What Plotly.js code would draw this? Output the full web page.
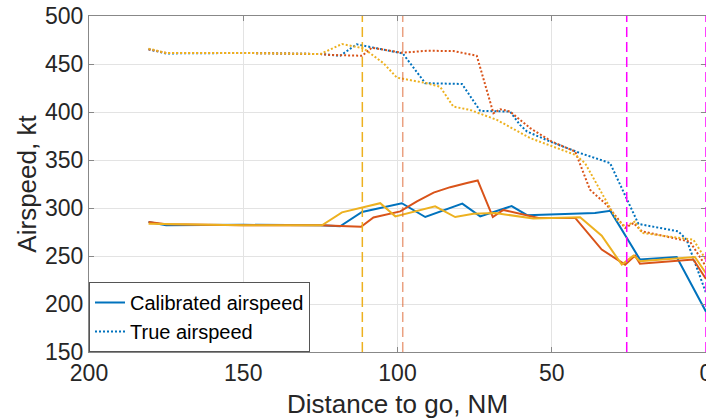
<!DOCTYPE html>
<html>
<head>
<meta charset="utf-8">
<script src="https://cdn.plot.ly/plotly-3.0.1.min.js"></script>
<style>html,body{margin:0;padding:0;background:#fff;}#chart{width:706px;height:419px;}</style>
</head>
<body>
<div id="chart"></div>
<script>
// Calibrated airspeed (solid)
const casBlueX = [180.7,175,150,125,118.6,111.5,98.6,91,79,73.2,63,58,36,31,21.4,9.5,0];
const casBlueY = [285.5,282,282.5,282,281,295.8,305,290.6,304.5,291.3,302,292.5,294.8,297,246.3,249,192];
const casRedX = [180.7,175,150,125,111.8,107.8,99.1,93.7,88.3,82.9,77.5,74,69.1,65.7,54.3,42.4,33.8,31.1,26.2,23,21.4,4.1,0];
const casRedY = [285.5,283,282,282,280.5,290.2,296.5,307,316,321.7,326,328.7,290.6,298,289.6,289.6,256.7,251.4,241,250.4,242,246.3,226];
const casYelX = [180.7,150,124.5,118,105.6,100.7,87.8,81.3,75.4,68.4,56,40.8,33.8,27.3,23.5,21.4,3.6,0];
const casYelY = [283.5,282,282,295.5,305,291.3,301.7,290.6,294,294.8,289,290.3,271.2,241,250.4,244.5,249,232];
// True airspeed (dotted)
const tasBlueX = [180.7,175,150,125,118.6,113.2,100.2,98.3,91,79.1,73.2,63.5,60.3,58,50.5,40.8,31.1,25.7,21.9,9,6.3,0];
const tasBlueY = [465.3,461,461.5,460.4,458.6,470.5,462.2,461,430,429.2,401.2,400.4,386.6,379.6,369.2,357.2,346.8,308.6,283.4,275.7,267,211.6];
const tasRedX = [180.7,175,150,125,121.8,111.5,108.3,98.6,90.5,81.9,74.3,68.9,66.7,63.5,57,50,42.4,37.6,32.2,26.2,23.5,20.8,5.2,0];
const tasRedY = [465.3,461.5,461.5,460.4,459.4,458.6,467,461.7,463.8,463.5,458.6,398.7,402.9,400.4,383.2,369.2,358.8,319,303.4,279.2,284.4,275.7,265,239];
const tasYelX = [180.7,175,150,125,118,111,104.5,100.2,90.5,86.2,81.9,76.5,67.8,57,42.4,39.2,31.1,28.9,26.2,23,20.8,4.1,0];
const tasYelY = [466,461.5,461.5,460.4,470.8,466.3,450.7,435.8,430,426.4,405.6,402.2,391.8,372.8,355.4,346.8,300,287.8,280.9,286,274,267,246];
// Vertical event markers
const eventX = [111.4, 98.3, 25.7, 0];
const eventColors = ['#EDB120', 'rgba(217,83,25,0.55)', '#FF00FF', '#FF00FF'];
const legendNames = ['Calibrated airspeed', 'True airspeed'];
const xTicks = [200,150,100,50,0];
const yTicks = [150,200,250,300,350,400,450,500];

const BLUE = '#0072BD', RED = '#D95319', YEL = '#EDB120';
const FONT = 'Liberation Sans, Arial, Helvetica, sans-serif';

function solid(x, y, c, name, show) {
  return {x: x, y: y, type: 'scatter', mode: 'lines', name: name, showlegend: show,
    line: {color: c, width: 2}};
}
function dotted(x, y, c, name, show) {
  return {x: x, y: y, type: 'scatter', mode: 'lines', name: name, showlegend: show,
    line: {color: c, width: 2, dash: '2px,2px'}};
}

const data = [
  solid(casBlueX, casBlueY, BLUE, legendNames[0], true),
  dotted(tasBlueX, tasBlueY, BLUE, legendNames[1], true),
  solid(casRedX, casRedY, RED, '', false),
  dotted(tasRedX, tasRedY, RED, '', false),
  solid(casYelX, casYelY, YEL, '', false),
  dotted(tasYelX, tasYelY, YEL, '', false)
];

const shapes = eventX.map((v, i) => ({
  type: 'line', xref: 'x', yref: 'paper', x0: v, x1: v, y0: 0, y1: 1,
  line: {color: eventColors[i], width: 1.5, dash: '10px,5px'}
}));

const axisCommon = {
  showline: true, linecolor: '#888', linewidth: 1, mirror: 'ticks',
  ticks: 'inside', ticklen: 5, tickcolor: '#888',
  showgrid: true, gridcolor: '#e3e3e3', gridwidth: 1, zeroline: false,
  ticklabeloverflow: 'allow',
  tickfont: {family: FONT, size: 23, color: '#262626'}
};

const layout = {
  width: 706, height: 419,
  margin: {l: 89, r: 0, t: 16, b: 67},
  paper_bgcolor: '#fff', plot_bgcolor: '#fff',
  font: {family: FONT, color: '#262626'},
  showlegend: true,
  xaxis: Object.assign({}, axisCommon, {
    range: [200, 0], tickvals: xTicks, ticktext: xTicks.map(String),
    title: {text: 'Distance to go, NM', font: {family: FONT, size: 26, color: '#262626'}, standoff: 10}
  }),
  yaxis: Object.assign({}, axisCommon, {
    range: [150, 500], tickvals: yTicks, ticktext: yTicks.map(String),
    ticklabelstandoff: 0,
    title: {text: 'Airspeed, kt', font: {family: FONT, size: 26, color: '#262626'}, standoff: 0}
  }),
  legend: {
    x: 0, y: 0, xanchor: 'left', yanchor: 'bottom',
    bgcolor: '#fff', bordercolor: '#555', borderwidth: 1,
    font: {family: FONT, size: 20, color: '#000'},
    itemwidth: 30, tracegroupgap: 0
  },
  shapes: shapes
};

Plotly.newPlot('chart', data, layout, {staticPlot: true, displayModeBar: false});
</script>
</body>
</html>
